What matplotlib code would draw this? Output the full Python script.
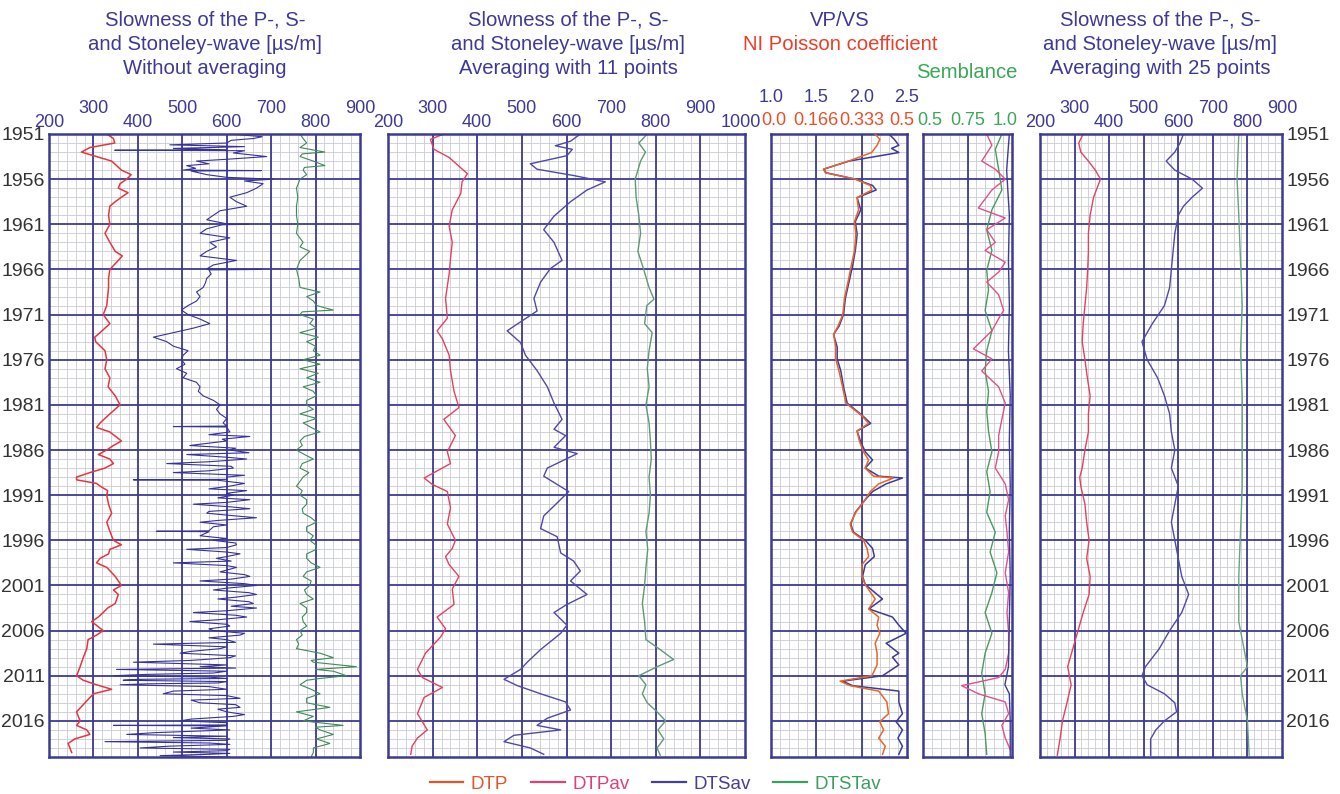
# -------------------------------- #
# ----------- Imports ------------ #
# -------------------------------- #

import matplotlib
matplotlib.use("Agg")
import matplotlib.pyplot as plt
from matplotlib.ticker import MultipleLocator
from matplotlib.lines import Line2D
from matplotlib.transforms import offset_copy
import numpy as np

plt.rcParams['font.family'] = ['Liberation Sans', 'DejaVu Sans']

# -------------------------------- #
# ------------- Data ------------- #
# -------------------------------- #

# panel 1 - without averaging (year, value)
raw_dtp = [(1951, 330), (1951.5, 345), (1952, 348), (1952.5, 292), (1953, 273), (1953.5, 307),
           (1954, 341), (1954.5, 352), (1955, 363), (1955.5, 385), (1956, 375), (1956.5, 360),
           (1957, 356), (1957.5, 378), (1958, 363), (1958.5, 349), (1959, 337), (1960, 334),
           (1961, 337), (1962, 326), (1963, 337), (1964, 349), (1964.5, 365), (1965, 356),
           (1966, 337), (1967, 334), (1968, 334), (1969, 332), (1970, 330), (1971, 322),
           (1972, 337), (1973, 315), (1973.5, 303), (1974, 305), (1975, 326), (1976, 330),
           (1977, 326), (1978, 337), (1979, 333), (1980, 349), (1981, 360), (1982, 337),
           (1983, 315), (1983.5, 307), (1984, 337), (1985, 363), (1985.5, 345), (1986, 330),
           (1986.5, 311), (1987, 337), (1987.5, 345), (1988, 326), (1988.5, 292), (1989, 262),
           (1989.3, 262), (1989.7, 307), (1990, 315), (1990.5, 332), (1991, 330), (1992, 334),
           (1993, 341), (1994, 330), (1995, 337), (1996, 345), (1996.5, 363), (1997, 337),
           (1997.5, 334), (1998, 315), (1998.5, 307), (1999, 330), (2000, 349), (2001, 363),
           (2001.5, 345), (2002, 356), (2003, 349), (2003.5, 332), (2004, 322), (2004.5, 311),
           (2005, 296), (2006, 322), (2006.5, 307), (2007, 288), (2008, 285), (2009, 277),
           (2010, 270), (2011, 262), (2011.5, 277), (2012, 307), (2012.5, 341), (2013, 300),
           (2014, 281), (2015, 262), (2016, 270), (2016.5, 262), (2017, 285), (2017.5, 292),
           (2018, 258), (2018.5, 243), (2019, 247), (2019.5, 251)]

raw_dts = [(1951.0, 870), (1951.05, 620), (1951.3, 680), (1951.5, 660), (1951.7, 610), (1952.0, 600),
           (1952.2, 472), (1952.4, 640), (1952.6, 480), (1952.75, 600), (1952.8, 348), (1952.85, 640),
           (1953.1, 615), (1953.5, 690), (1953.8, 600), (1954.0, 532), (1954.3, 560), (1954.5, 510),
           (1954.8, 530), (1955.0, 502), (1955.05, 678), (1955.1, 520), (1955.5, 555), (1955.8, 600),
           (1956.0, 705), (1956.2, 640), (1956.5, 682), (1957.0, 667), (1957.5, 645), (1958.0, 607),
           (1958.5, 622), (1959.0, 645), (1959.5, 585), (1960.0, 570), (1960.5, 555), (1960.95, 600),
           (1961.0, 650), (1961.05, 590), (1961.5, 555), (1962.0, 540), (1962.5, 607), (1963.0, 562),
           (1963.5, 577), (1964.0, 555), (1964.5, 540), (1965.0, 622), (1965.5, 570), (1965.95, 555),
           (1966.0, 678), (1966.05, 560), (1966.5, 565), (1967.0, 555), (1967.5, 552), (1968.0, 547),
           (1968.5, 532), (1969.0, 540), (1969.5, 532), (1970.0, 513), (1970.5, 498), (1971.0, 513),
           (1971.5, 540), (1972.0, 562), (1972.5, 525), (1973.0, 480), (1973.5, 435), (1974.0, 465),
           (1974.5, 480), (1975.0, 513), (1975.5, 502), (1976.0, 498), (1976.5, 506), (1977.0, 487),
           (1977.5, 510), (1978.0, 502), (1978.5, 532), (1979.0, 540), (1979.5, 536), (1980.0, 547),
           (1980.5, 570), (1981.0, 585), (1981.5, 577), (1982.0, 585), (1982.5, 600), (1983.0, 592),
           (1983.35, 600), (1983.4, 480), (1983.45, 600), (1984.0, 607), (1984.3, 560), (1984.5, 652),
           (1984.8, 590), (1985.0, 600), (1985.5, 517), (1985.8, 620), (1986.0, 607), (1986.3, 650),
           (1986.5, 510), (1986.8, 600), (1987.0, 645), (1987.3, 560), (1987.5, 465), (1987.8, 610),
           (1988.0, 615), (1988.3, 560), (1988.5, 480), (1988.8, 640), (1989.0, 600), (1989.25, 600),
           (1989.3, 390), (1989.35, 580), (1989.7, 640), (1990.0, 607), (1990.3, 560), (1990.5, 645),
           (1990.8, 600), (1991.0, 615), (1991.3, 580), (1991.5, 652), (1991.8, 600), (1992.0, 525),
           (1992.3, 610), (1992.5, 652), (1992.8, 560), (1993.0, 555), (1993.3, 620), (1993.5, 667),
           (1993.8, 580), (1994.0, 540), (1994.3, 600), (1994.5, 570), (1994.95, 560), (1995.0, 442),
           (1995.05, 560), (1995.5, 540), (1995.8, 600), (1996.0, 570), (1996.3, 620), (1996.5, 622),
           (1996.8, 600), (1997.0, 510), (1997.3, 600), (1997.5, 630), (1997.8, 600), (1998.0, 577),
           (1998.3, 610), (1998.5, 480), (1998.8, 600), (1999.0, 622), (1999.5, 585), (1999.8, 640),
           (2000.0, 652), (2000.3, 610), (2000.5, 540), (2000.8, 640), (2001.0, 667), (2001.3, 600),
           (2001.5, 570), (2001.8, 650), (2002.0, 667), (2002.3, 620), (2002.5, 580), (2002.8, 650),
           (2003.0, 660), (2003.3, 610), (2003.5, 667), (2003.8, 600), (2004.0, 525), (2004.3, 620),
           (2004.5, 645), (2004.8, 580), (2005.0, 517), (2005.3, 600), (2005.5, 607), (2005.8, 560),
           (2006.0, 570), (2006.3, 640), (2006.5, 630), (2006.8, 560), (2007.0, 600), (2007.3, 620),
           (2007.5, 435), (2007.8, 600), (2008.0, 585), (2008.3, 520), (2008.5, 495), (2008.8, 620),
           (2009.0, 607), (2009.3, 520), (2009.5, 390), (2009.8, 600), (2010.0, 540), (2010.15, 620),
           (2010.3, 352), (2010.5, 600), (2010.7, 570), (2010.85, 420), (2011.0, 345), (2011.15, 560),
           (2011.3, 600), (2011.4, 400), (2011.5, 367), (2011.65, 600), (2011.8, 580), (2011.9, 420),
           (2012.0, 360), (2012.2, 560), (2012.5, 600), (2012.7, 480), (2013.0, 457), (2013.2, 600),
           (2013.5, 630), (2013.7, 520), (2014.0, 540), (2014.2, 620), (2014.5, 630), (2014.7, 580),
           (2015.0, 600), (2015.3, 640), (2015.5, 615), (2015.8, 520), (2016.0, 495), (2016.2, 600),
           (2016.45, 600), (2016.5, 345), (2016.55, 600), (2016.8, 520), (2017.0, 607), (2017.3, 440),
           (2017.5, 375), (2017.7, 600), (2017.85, 480), (2018.0, 607), (2018.15, 600), (2018.3, 326),
           (2018.45, 560), (2018.6, 607), (2018.8, 470), (2019.0, 405), (2019.15, 607), (2019.3, 600),
           (2019.45, 480), (2019.6, 607), (2019.7, 560), (2019.85, 450), (2020.0, 607)]

raw_dtst = [(1951, 765), (1951.5, 772), (1952, 780), (1952.5, 765), (1953, 821), (1953.2, 770),
            (1953.5, 765), (1954, 795), (1954.5, 821), (1954.7, 775), (1955, 772), (1955.5, 780),
            (1956, 765), (1957, 757), (1958, 760), (1959, 757), (1960, 757), (1961, 760),
            (1962, 757), (1963, 772), (1963.5, 765), (1964, 787), (1965, 765), (1966, 757),
            (1967, 762), (1968, 765), (1968.5, 810), (1969, 780), (1969.5, 795), (1970, 802),
            (1970.5, 840), (1970.7, 770), (1971, 765), (1971.5, 795), (1972, 787), (1972.5, 802),
            (1973, 765), (1973.5, 806), (1974, 780), (1974.5, 800), (1975, 795), (1975.5, 810),
            (1976, 772), (1976.5, 810), (1977, 765), (1977.5, 806), (1978, 780), (1978.5, 810),
            (1979, 772), (1979.5, 795), (1980, 802), (1980.5, 780), (1981, 780), (1981.5, 795),
            (1982, 765), (1982.5, 802), (1983, 772), (1983.5, 790), (1984, 810), (1984.5, 775),
            (1985, 765), (1985.5, 770), (1986, 757), (1986.5, 775), (1987, 795), (1987.5, 770),
            (1988, 765), (1988.5, 785), (1989, 772), (1990, 757), (1990.5, 770), (1991, 765),
            (1991.5, 780), (1992, 780), (1992.5, 770), (1993, 772), (1993.5, 790), (1994, 802),
            (1994.5, 780), (1995, 780), (1995.5, 795), (1996, 787), (1996.5, 800), (1997, 802),
            (1997.5, 780), (1998, 780), (1998.5, 790), (1999, 810), (1999.5, 780), (2000, 772),
            (2000.5, 790), (2001, 787), (2001.5, 775), (2002, 780), (2002.5, 795), (2003, 765),
            (2003.5, 780), (2004, 780), (2004.5, 770), (2005, 772), (2005.5, 780), (2006, 765),
            (2006.5, 770), (2007, 757), (2007.5, 762), (2008, 757), (2008.5, 810), (2009, 840),
            (2009.3, 790), (2009.5, 795), (2010, 892), (2010.3, 800), (2010.5, 840), (2011, 870),
            (2011.3, 810), (2011.5, 780), (2012, 765), (2012.5, 790), (2013, 810), (2013.5, 780),
            (2014, 780), (2014.5, 832), (2015, 757), (2015.5, 795), (2016, 772), (2016.5, 862),
            (2016.7, 800), (2017, 810), (2017.5, 840), (2018, 802), (2018.5, 832), (2019, 795),
            (2019.5, 795), (2020, 790)]

# panel 2 - averaging with 11 points
av11_dtp = [(1951.0, 325), (1951.6, 295), (1952.7, 303), (1953.6, 337), (1955.4, 378), (1956.3, 366),
            (1957.6, 363), (1959.4, 344), (1961.2, 337), (1963.0, 344), (1964.8, 340), (1966.5, 337),
            (1969.2, 329), (1971.4, 333), (1972.8, 310), (1973.7, 322), (1975.5, 337), (1977.2, 340),
            (1979.5, 348), (1981.3, 359), (1982.6, 325), (1984.4, 351), (1986.2, 333), (1987.5, 340),
            (1989.1, 281), (1989.8, 299), (1990.6, 333), (1992.4, 340), (1994.2, 333), (1996.0, 351),
            (1996.9, 344), (1997.8, 329), (1998.7, 337), (2000.0, 359), (2001.4, 344), (2003.1, 348),
            (2004.5, 310), (2005.8, 329), (2006.7, 318), (2008.5, 284), (2010.3, 266), (2011.2, 277),
            (2012.3, 322), (2013.4, 281), (2015.2, 266), (2016.1, 277), (2017.0, 288), (2017.9, 266),
            (2018.8, 254), (2019.7, 251)]

av11_dts = [(1951.0, 631), (1951.8, 609), (1952.3, 575), (1952.7, 613), (1953.4, 601), (1954.3, 519),
            (1954.9, 534), (1955.6, 616), (1956.3, 687), (1957.2, 646), (1958.5, 609), (1960.1, 572),
            (1961.6, 549), (1963.0, 572), (1965.0, 590), (1965.9, 564), (1967.4, 542), (1969.2, 527),
            (1970.6, 534), (1972.3, 482), (1972.8, 467), (1974.1, 497), (1975.5, 508), (1977.2, 534),
            (1979.0, 557), (1980.8, 572), (1982.6, 590), (1983.7, 572), (1984.4, 598), (1985.7, 572),
            (1986.4, 624), (1988.0, 557), (1988.9, 549), (1990.6, 605), (1992.2, 572), (1993.3, 549),
            (1994.7, 542), (1995.6, 579), (1997.4, 587), (1998.3, 616), (1999.4, 631), (2000.5, 609),
            (2002.0, 646), (2003.1, 601), (2004.0, 572), (2005.4, 601), (2006.3, 587), (2008.1, 542),
            (2009.5, 512), (2010.3, 497), (2011.4, 460), (2012.1, 490), (2013.0, 542), (2013.9, 598),
            (2014.8, 609), (2015.7, 557), (2016.5, 534), (2017.0, 587), (2017.6, 482), (2018.3, 460),
            (2019.0, 519), (2019.7, 549)]

av11_dtst = [(1951, 781), (1952, 762), (1953, 777), (1954, 766), (1956, 754), (1958, 756),
             (1960, 762), (1962, 766), (1964, 760), (1966, 773), (1968, 785), (1969.3, 796),
             (1970, 780), (1972, 775), (1973, 792), (1975, 785), (1977, 781), (1979, 785),
             (1981, 778), (1983, 785), (1985, 788), (1987, 790), (1989, 785), (1991, 788),
             (1993, 785), (1995, 778), (1997, 782), (1999, 778), (2001, 775), (2003, 770),
             (2005, 775), (2007, 778), (2008, 807), (2009.2, 840), (2010, 803), (2011, 762),
             (2012, 778), (2013, 770), (2014, 781), (2015, 803), (2016, 822), (2017, 805),
             (2018, 818), (2019, 803), (2019.8, 810)]

# panel 3 - VP/VS and Poisson coefficient
vpvs = [(1951.0, 2.30), (1951.6, 2.36), (1952.25, 2.41), (1952.6, 2.33), (1953.05, 2.41), (1954.0, 1.86),
        (1954.9, 1.58), (1955.3, 1.61), (1956.0, 1.93), (1956.7, 2.12), (1957.2, 2.16), (1958.05, 1.95),
        (1959.4, 1.99), (1960.7, 1.93), (1962.1, 1.95), (1963.9, 1.93), (1965.6, 1.90), (1967.4, 1.86),
        (1969.2, 1.82), (1971.0, 1.80), (1972.3, 1.75), (1973.2, 1.69), (1974.6, 1.73), (1975.9, 1.73),
        (1977.25, 1.77), (1979.0, 1.80), (1980.8, 1.84), (1982.2, 2.01), (1983.05, 2.10), (1983.9, 1.95),
        (1985.1, 1.99), (1986.2, 2.04), (1987.1, 2.12), (1988.0, 2.04), (1988.9, 2.19), (1989.1, 2.45),
        (1989.75, 2.27), (1990.6, 2.12), (1991.5, 2.04), (1992.9, 1.93), (1994.2, 1.88), (1995.1, 1.91),
        (1996.0, 2.04), (1996.9, 2.12), (1997.8, 2.14), (1998.7, 2.04), (2000.0, 2.01), (2000.9, 2.04),
        (2002.5, 2.23), (2003.6, 2.08), (2004.5, 2.34), (2005.4, 2.41), (2006.3, 2.49), (2007.4, 2.27),
        (2008.5, 2.41), (2008.95, 2.34), (2009.8, 2.41), (2011.0, 2.23), (2011.6, 1.79), (2012.1, 1.90),
        (2012.7, 2.41), (2013.9, 2.41), (2015.2, 2.45), (2016.1, 2.38), (2017.0, 2.45), (2017.9, 2.40),
        (2018.8, 2.45), (2019.7, 2.41)]

poisson = [(1951.0, 0.383), (1951.6, 0.400), (1952.25, 0.390), (1953.05, 0.370), (1954.0, 0.285),
           (1954.9, 0.193), (1955.3, 0.200), (1956.0, 0.310), (1956.7, 0.365), (1957.2, 0.371),
           (1958.05, 0.316), (1959.4, 0.322), (1960.7, 0.307), (1962.1, 0.312), (1963.9, 0.307),
           (1965.6, 0.295), (1967.4, 0.283), (1969.2, 0.270), (1971.0, 0.264), (1972.3, 0.246),
           (1973.2, 0.230), (1974.6, 0.238), (1975.9, 0.238), (1977.25, 0.250), (1979.0, 0.263),
           (1980.8, 0.275), (1982.2, 0.334), (1983.05, 0.359), (1983.9, 0.316), (1985.1, 0.326),
           (1986.2, 0.340), (1987.1, 0.359), (1988.0, 0.346), (1988.9, 0.377), (1989.1, 0.450),
           (1989.75, 0.396), (1990.6, 0.365), (1991.5, 0.346), (1992.9, 0.312), (1994.2, 0.291),
           (1995.1, 0.300), (1996.0, 0.340), (1996.9, 0.353), (1997.8, 0.359), (1998.7, 0.334),
           (2000.0, 0.334), (2000.9, 0.346), (2002.5, 0.383), (2003.6, 0.359), (2004.5, 0.396),
           (2005.4, 0.390), (2006.3, 0.400), (2007.4, 0.383), (2008.5, 0.390), (2009.8, 0.390),
           (2011.0, 0.371), (2011.6, 0.254), (2012.1, 0.291), (2012.7, 0.396), (2013.9, 0.426),
           (2015.2, 0.432), (2016.1, 0.400), (2017.0, 0.414), (2017.9, 0.396), (2018.8, 0.420),
           (2019.7, 0.410)]

# panel 4 - semblance
semb_p = [(1951.0, 0.858), (1952.25, 0.887), (1954.0, 0.830), (1954.9, 0.906), (1956.0, 0.962),
          (1957.2, 0.887), (1959.2, 0.811), (1960.3, 0.962), (1961.6, 0.858), (1963.0, 0.906),
          (1963.9, 0.849), (1965.2, 0.962), (1966.3, 0.925), (1967.4, 0.858), (1968.8, 0.925),
          (1970.55, 0.953), (1971.45, 0.925), (1972.8, 0.887), (1974.8, 0.783), (1975.9, 0.887),
          (1977.25, 0.830), (1979.0, 0.925), (1980.8, 0.962), (1982.6, 0.943), (1984.4, 0.925),
          (1986.2, 0.925), (1988.0, 0.906), (1989.75, 0.962), (1991.5, 0.981), (1993.3, 0.962),
          (1995.1, 0.972), (1997.3, 0.981), (1999.6, 0.962), (2001.8, 0.981), (2004.0, 0.972),
          (2006.3, 0.981), (2008.5, 0.981), (2010.3, 0.962), (2011.2, 0.925), (2012.1, 0.717),
          (2013.0, 0.811), (2013.9, 0.962), (2015.2, 0.981), (2016.5, 0.943), (2017.9, 0.962),
          (2019.2, 0.991)]

semb_st = [(1951.0, 0.943), (1952.7, 0.906), (1954.9, 0.925), (1957.2, 0.943), (1959.4, 0.887),
           (1961.6, 0.858), (1963.9, 0.887), (1966.1, 0.858), (1968.3, 0.868), (1970.55, 0.849),
           (1972.8, 0.887), (1975.0, 0.858), (1977.25, 0.849), (1979.5, 0.868), (1981.7, 0.858),
           (1983.9, 0.868), (1986.2, 0.887), (1988.4, 0.858), (1990.6, 0.877), (1992.9, 0.858),
           (1995.1, 0.906), (1997.3, 0.877), (1999.6, 0.915), (2001.8, 0.887), (2004.0, 0.849),
           (2006.3, 0.887), (2008.5, 0.849), (2010.7, 0.830), (2013.0, 0.849), (2015.2, 0.830),
           (2017.4, 0.849), (2019.7, 0.858)]

semb_s = [(1951, 0.985), (1955, 0.970), (1960, 0.985), (1965, 0.980), (1970, 0.985), (1975, 0.980),
          (1980, 0.990), (1985, 0.985), (1990, 0.990), (1995, 0.985), (2000, 0.990), (2005, 0.985),
          (2010, 0.980), (2012, 0.960), (2013, 0.985), (2016, 0.990), (2020, 0.990)]

# panel 5 - averaging with 25 points
av25_dtp = [(1951, 325), (1952, 312), (1953, 318), (1954, 340), (1955, 360), (1956, 375), (1957, 365),
            (1958, 355), (1960, 345), (1962, 340), (1964, 340), (1966, 338), (1968, 335), (1970, 330),
            (1972, 325), (1974, 322), (1976, 330), (1978, 337), (1980, 345), (1982, 340), (1984, 340),
            (1986, 330), (1988, 322), (1989, 315), (1990, 318), (1992, 330), (1994, 335), (1996, 342),
            (1998, 335), (2000, 345), (2002, 342), (2004, 325), (2006, 310), (2008, 295), (2010, 280),
            (2012, 290), (2014, 278), (2016, 265), (2018, 258), (2019.8, 250)]

av25_dts = [(1951, 615), (1952, 605), (1953, 590), (1954, 565), (1955, 590), (1956, 640), (1957, 670),
            (1958, 640), (1959, 615), (1960, 600), (1962, 590), (1964, 585), (1966, 580), (1968, 575),
            (1970, 560), (1972, 525), (1974, 495), (1976, 510), (1978, 540), (1980, 560), (1982, 575),
            (1984, 580), (1986, 590), (1988, 580), (1990, 600), (1992, 590), (1994, 580), (1996, 590),
            (1998, 600), (2000, 610), (2002, 630), (2004, 610), (2006, 575), (2008, 545), (2010, 505),
            (2011, 495), (2012, 510), (2013, 560), (2014, 590), (2015, 595), (2016, 560), (2017, 535),
            (2018, 520), (2019.8, 520)]

av25_dtst = [(1951, 775), (1956, 770), (1960, 775), (1965, 780), (1970, 785), (1975, 780), (1980, 785),
             (1985, 785), (1990, 785), (1995, 780), (2000, 775), (2005, 775), (2008, 790), (2010, 800),
             (2011, 780), (2013, 785), (2016, 800), (2019.8, 805)]

year_ticks = list(range(1951, 2020, 5))
slow_ticks = [200, 300, 400, 500, 600, 700, 800, 900]
slow_ticks_10 = [200, 300, 400, 500, 600, 700, 800, 900, 1000]
vpvs_ticks = ['1.0', '1.5', '2.0', '2.5']
poisson_ticks = ['0.0', '0.166', '0.333', '0.5']
semb_ticks = ['0.5', '0.75', '1.0']

# -------------------------------- #
# ---------- Functions ----------- #
# -------------------------------- #

PURPLE = '#3d3a96'
GRIDMIN = '#cacad4'


def split(pairs):
    return [p[0] for p in pairs], [p[1] for p in pairs]


def plot_log(ax, pairs, color, lw=1.0):
    y, x = split(pairs)
    ax.plot(x, y, color=color, lw=lw, zorder=3)


def setup(ax, xmin, xmax, major, minor):
    ax.set_xlim(xmin, xmax)
    ax.set_ylim(2020, 1951)
    ax.xaxis.set_minor_locator(MultipleLocator(minor))
    ax.yaxis.set_minor_locator(MultipleLocator(1))
    ax.set_yticks(year_ticks)
    ax.set_xticks([])
    ax.grid(which='minor', color=GRIDMIN, lw=0.6)
    ax.set_axisbelow(True)
    # major lines drawn on top of the fine grid
    for xv in np.arange(xmin + major, xmax - major / 2, major):
        ax.axvline(xv, color=PURPLE, lw=1.3, zorder=1)
    for yv in year_ticks[1:]:
        ax.axhline(yv, color=PURPLE, lw=1.3, zorder=1)
    ax.tick_params(which='both', length=0, labelbottom=False, labelleft=False)
    for s in ax.spines.values():
        s.set_color(PURPLE)
        s.set_linewidth(1.8)
        s.set_zorder(4)


def stagger(ax, ticks, last_off=0):
    # alternating low/high labels on top
    for i, t in enumerate(ticks):
        yy = 1.019 if i % 2 == 0 else 1.041
        off = last_off if i == len(ticks) - 1 else 0
        tr = offset_copy(ax.get_xaxis_transform(), fig=fig, x=off, units='points')
        ax.text(t, yy, str(t), transform=tr, ha='center', va='center', fontsize=13, color=PURPLE)


# ------------------------------- #
# ----------- Script ------------ #
# ------------------------------- #

fig = plt.figure(figsize=(13.4, 7.94), dpi=100)

bot = 1 - 757 / 794
hgt = 623 / 794
ax1 = fig.add_axes([49 / 1340, bot, 311 / 1340, hgt])
ax2 = fig.add_axes([388 / 1340, bot, 357 / 1340, hgt])
ax3 = fig.add_axes([771 / 1340, bot, 136 / 1340, hgt])
ax4 = fig.add_axes([923 / 1340, bot, 89 / 1340, hgt])
ax5 = fig.add_axes([1040 / 1340, bot, 242 / 1340, hgt])

setup(ax1, 200, 900, 100, 20)
setup(ax2, 200, 1000, 100, 20)
setup(ax3, 1.0, 2.5, 0.5, 0.1)
setup(ax4, 0.5, 1.0, 0.25, 0.05)
setup(ax5, 200, 900, 100, 20)

# year labels
ax1.tick_params(labelleft=True, labelsize=14, labelcolor='#333333', pad=3)
ax5.tick_params(labelright=True, labelsize=14, labelcolor='#333333', pad=3)

# panel 1
plot_log(ax1, raw_dtp, '#e8343c', 1.1)
plot_log(ax1, raw_dts, '#35329a', 0.8)
plot_log(ax1, raw_dtst, '#3f8a55', 0.8)
stagger(ax1, slow_ticks)

# panel 2
plot_log(ax2, av11_dtp, '#e8405a', 1.0)
plot_log(ax2, av11_dts, '#4e49aa', 1.0)
plot_log(ax2, av11_dtst, '#5f9a6f', 1.0)
stagger(ax2, slow_ticks_10, last_off=-3)

# panel 3
plot_log(ax3, vpvs, '#3d3a9a', 1.1)
ax3p = ax3.twiny()
ax3p.set_xlim(0.0, 0.5)
ax3p.set_axis_off()
plot_log(ax3p, poisson, '#e8652a', 1.1)
for lab in vpvs_ticks:
    ax3.text(float(lab), 1.059, lab, transform=ax3.get_xaxis_transform(), ha='center',
             va='center', fontsize=13, color=PURPLE)
for i, lab in enumerate(poisson_ticks):
    off = [2, 0, 0, -4][i]
    tr = offset_copy(ax3p.get_xaxis_transform(), fig=fig, x=off, units='points')
    ax3p.text([0.0, 0.1667, 0.3333, 0.5][i], 1.021, lab, transform=tr, ha='center',
              va='center', fontsize=13, color='#e8502a')

# panel 4
plot_log(ax4, semb_st, '#4a9a5a', 1.0)
plot_log(ax4, semb_p, '#e0508a', 1.0)
plot_log(ax4, semb_s, '#3d3a9a', 1.0)
for i, lab in enumerate(semb_ticks):
    off = [5, 0, -5][i]
    tr = offset_copy(ax4.get_xaxis_transform(), fig=fig, x=off, units='points')
    ax4.text(float(lab), 1.021, lab, transform=tr, ha='center', va='center',
             fontsize=13, color='#3aa855')

# panel 5
plot_log(ax5, av25_dtp, '#e8405a', 1.0)
plot_log(ax5, av25_dts, '#4e49aa', 1.0)
plot_log(ax5, av25_dtst, '#6aa47a', 1.0)
stagger(ax5, slow_ticks)

# titles
for xc, sub in [(205, 'Without averaging'), (568, 'Averaging with 11 points'),
                (1160, 'Averaging with 25 points')]:
    for yc, line in [(20, 'Slowness of the P-, S-'), (45, 'and Stoneley-wave [\u00b5s/m]'), (68, sub)]:
        fig.text(xc / 1340, 1 - yc / 794, line, ha='center', va='center', fontsize=14.6,
                 color=PURPLE)
fig.text(840 / 1340, 1 - 20 / 794, 'VP/VS', ha='center', va='center', fontsize=14.6, color=PURPLE)
fig.text(840 / 1340, 1 - 44 / 794, 'NI Poisson coefficient', ha='center', va='center',
         fontsize=14.6, color='#e8402a')
fig.text(967 / 1340, 1 - 72 / 794, 'Semblance', ha='center', va='center', fontsize=14.6,
         color='#3aa855')

# legend
names = ['DTP', 'DTPav', 'DTSav', 'DTSTav']
cols = ['#e0552a', '#e0407a', '#45409a', '#3aa060']
handles = [Line2D([], [], color=c, lw=1.6) for c in cols]
fig.legend(handles, names, loc='lower center', bbox_to_anchor=(0.489, -0.02), ncol=4,
           frameon=False, fontsize=13.5, labelcolor=cols, handlelength=1.8,
           columnspacing=1.2, handletextpad=0.4)

fig.savefig('out.png', dpi=100)
